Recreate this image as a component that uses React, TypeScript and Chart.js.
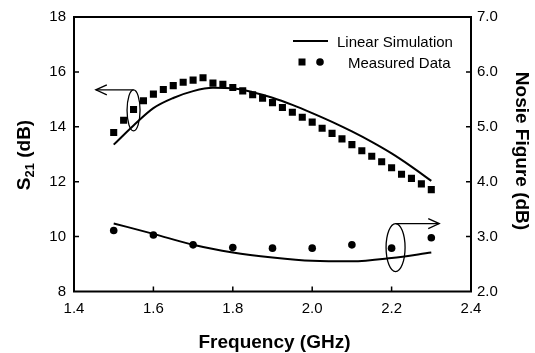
import React, { useEffect, useRef } from "react";
import { Chart, registerables } from "chart.js";
Chart.register(...registerables);

// ---- data ----
const xTicks = [1.4, 1.6, 1.8, 2.0, 2.2, 2.4];
const leftTicks = [8, 10, 12, 14, 16, 18];
const rightTicks = [2.0, 3.0, 4.0, 5.0, 6.0, 7.0];

const simS21Freq = [1.5, 1.55, 1.6, 1.65, 1.7, 1.75, 1.8, 1.85, 1.9, 1.95, 2.0, 2.05, 2.1, 2.15, 2.2, 2.25, 2.3];
const simS21 = [13.35, 14.05, 14.68, 15.05, 15.3, 15.42, 15.4, 15.26, 15.06, 14.8, 14.5, 14.18, 13.83, 13.45, 13.03, 12.55, 12.03];

const measS21Freq = [1.5, 1.525, 1.55, 1.575, 1.6, 1.625, 1.65, 1.675, 1.7, 1.725, 1.75, 1.775, 1.8, 1.825, 1.85, 1.875, 1.9, 1.925, 1.95, 1.975, 2.0, 2.025, 2.05, 2.075, 2.1, 2.125, 2.15, 2.175, 2.2, 2.225, 2.25, 2.275, 2.3];
const measS21 = [13.79, 14.24, 14.63, 14.95, 15.19, 15.36, 15.5, 15.62, 15.7, 15.79, 15.59, 15.55, 15.43, 15.31, 15.17, 15.04, 14.88, 14.7, 14.53, 14.35, 14.17, 13.95, 13.76, 13.56, 13.35, 13.13, 12.93, 12.73, 12.51, 12.27, 12.12, 11.92, 11.71];

const nfFreq = [1.5, 1.6, 1.7, 1.8, 1.9, 2.0, 2.1, 2.2, 2.3];
const simNF = [3.24, 3.05, 2.85, 2.71, 2.62, 2.56, 2.55, 2.61, 2.71];
const measNF = [3.11, 3.03, 2.85, 2.8, 2.79, 2.79, 2.85, 2.79, 2.98];

const legendLabels = ["Linear Simulation", "Measured Data"];
const xTitle = "Frequency (GHz)";
const rightTitle = "Nosie Figure (dB)";

const FONT = "'Liberation Sans', Arial, sans-serif";

const decorPlugin = {
  id: "decor",
  afterDraw(chart: any) {
    const { ctx, chartArea: a, scales } = chart;
    const sx = scales.x, sy = scales.y, sy2 = scales.y2;
    ctx.save();
    ctx.strokeStyle = "#000";
    ctx.fillStyle = "#000";
    // frame
    ctx.lineWidth = 2;
    ctx.strokeRect(a.left, a.top, a.right - a.left, a.bottom - a.top);
    // inward ticks
    ctx.lineWidth = 1.5;
    const tl = 5;
    ctx.beginPath();
    xTicks.slice(1, -1).forEach((v) => {
      const px = sx.getPixelForValue(v);
      ctx.moveTo(px, a.bottom);
      ctx.lineTo(px, a.bottom - tl);
    });
    leftTicks.slice(1, -1).forEach((v) => {
      const py = sy.getPixelForValue(v);
      ctx.moveTo(a.left, py);
      ctx.lineTo(a.left + tl, py);
    });
    rightTicks.slice(1, -1).forEach((v) => {
      const py = sy2.getPixelForValue(v);
      ctx.moveTo(a.right, py);
      ctx.lineTo(a.right - tl, py);
    });
    ctx.stroke();

    const big = `bold 19px ${FONT}`;
    const small = `bold 13px ${FONT}`;
    // x title
    ctx.font = big;
    ctx.textAlign = "center";
    ctx.textBaseline = "alphabetic";
    ctx.fillText(xTitle, (a.left + a.right) / 2 + 2, 348);

    // left title with subscript
    ctx.save();
    ctx.translate(23, 155);
    ctx.rotate(-Math.PI / 2);
    ctx.textAlign = "left";
    ctx.font = big;
    const wS = ctx.measureText("S").width;
    const wRest = ctx.measureText(" (dB)").width;
    ctx.font = small;
    const wSub = ctx.measureText("21").width;
    const x0 = -(wS + wSub + wRest) / 2;
    ctx.font = big;
    ctx.fillText("S", x0, 7);
    ctx.font = small;
    ctx.fillText("21", x0 + wS, 11);
    ctx.font = big;
    ctx.fillText(" (dB)", x0 + wS + wSub, 7);
    ctx.restore();

    // right title
    ctx.save();
    ctx.translate(523, 151);
    ctx.rotate(Math.PI / 2);
    ctx.textAlign = "center";
    ctx.font = big;
    ctx.fillText(rightTitle, 0, 7);
    ctx.restore();

    // legend
    ctx.lineWidth = 2;
    ctx.beginPath();
    ctx.moveTo(293, 41);
    ctx.lineTo(328, 41);
    ctx.stroke();
    ctx.font = `15px ${FONT}`;
    ctx.textAlign = "left";
    ctx.fillText(legendLabels[0], 337, 46.5);
    ctx.fillRect(298.5, 58.5, 7, 7);
    ctx.beginPath();
    ctx.arc(320, 62, 3.8, 0, Math.PI * 2);
    ctx.fill();
    ctx.fillText(legendLabels[1], 348, 67.5);

    // annotations
    const arrowHead = (x: number, y: number, dir: number) => {
      ctx.beginPath();
      ctx.moveTo(x - dir * 11, y - 5);
      ctx.lineTo(x, y);
      ctx.lineTo(x - dir * 11, y + 5);
      ctx.stroke();
    };
    ctx.lineWidth = 1.3;
    // left
    const lx = sx.getPixelForValue(1.55);
    const ly = sy.getPixelForValue(14.6);
    ctx.beginPath();
    ctx.ellipse(lx, ly, 6.5, 20.5, 0, 0, Math.PI * 2);
    ctx.stroke();
    const lTip = sx.getPixelForValue(1.455);
    ctx.beginPath();
    ctx.moveTo(lx, ly - 20.5);
    ctx.lineTo(lTip, ly - 20.5);
    ctx.stroke();
    arrowHead(lTip, ly - 20.5, -1);
    // right
    const rx = sx.getPixelForValue(2.21);
    const ry = sy2.getPixelForValue(2.8);
    ctx.beginPath();
    ctx.ellipse(rx, ry, 9.5, 24, 0, 0, Math.PI * 2);
    ctx.stroke();
    const rTip = sx.getPixelForValue(2.32);
    ctx.beginPath();
    ctx.moveTo(rx, ry - 24);
    ctx.lineTo(rTip, ry - 24);
    ctx.stroke();
    arrowHead(rTip, ry - 24, 1);
    ctx.restore();
  },
};

export default function App() {
  const ref = useRef<HTMLCanvasElement>(null);
  useEffect(() => {
    document.body.style.margin = "0";
    const canvas = ref.current!;
    const tickFont = { family: FONT, size: 15 };
    const chart = new Chart(canvas, {
      type: "line",
      data: {
        datasets: [
          {
            data: simS21Freq.map((f, i) => ({ x: f, y: simS21[i] })),
            yAxisID: "y",
            borderColor: "#000",
            borderWidth: 2,
            pointRadius: 0,
            cubicInterpolationMode: "monotone",
            fill: false,
          },
          {
            data: measS21Freq.map((f, i) => ({ x: f, y: measS21[i] })),
            yAxisID: "y",
            showLine: false,
            pointStyle: "rect",
            pointRadius: 5,
            backgroundColor: "#000",
            borderColor: "#000",
            borderWidth: 0,
          },
          {
            data: nfFreq.map((f, i) => ({ x: f, y: simNF[i] })),
            yAxisID: "y2",
            borderColor: "#000",
            borderWidth: 2,
            pointRadius: 0,
            cubicInterpolationMode: "monotone",
            fill: false,
          },
          {
            data: nfFreq.map((f, i) => ({ x: f, y: measNF[i] })),
            yAxisID: "y2",
            showLine: false,
            pointStyle: "circle",
            pointRadius: 3.8,
            backgroundColor: "#000",
            borderColor: "#000",
            borderWidth: 0,
          },
        ],
      },
      options: {
        responsive: false,
        animation: false,
        events: [],
        layout: { padding: { top: 16, left: 0, right: 0, bottom: 0 } },
        plugins: { legend: { display: false }, tooltip: { enabled: false } },
        scales: {
          x: {
            type: "linear",
            min: 1.4,
            max: 2.4,
            afterBuildTicks: (s: any) => { s.ticks = xTicks.map((v) => ({ value: v })); },
            ticks: { font: tickFont, color: "#000", padding: 8, maxRotation: 0, callback: (v: any) => Number(v).toFixed(1) },
            grid: { display: false, drawTicks: false },
            border: { display: false },
            afterFit: (s: any) => { s.height = 61.5; },
          },
          y: {
            position: "left",
            min: 8,
            max: 18,
            afterBuildTicks: (s: any) => { s.ticks = leftTicks.map((v) => ({ value: v })); },
            ticks: { font: tickFont, color: "#000", padding: 8, callback: (v: any) => String(v) },
            grid: { display: false, drawTicks: false },
            border: { display: false },
            afterFit: (s: any) => { s.width = 74; },
          },
          y2: {
            position: "right",
            min: 2,
            max: 7,
            afterBuildTicks: (s: any) => { s.ticks = rightTicks.map((v) => ({ value: v })); },
            ticks: { font: tickFont, color: "#000", padding: 6, callback: (v: any) => Number(v).toFixed(1) },
            grid: { display: false, drawTicks: false },
            border: { display: false },
            afterFit: (s: any) => { s.width = 64; },
          },
        },
      },
      plugins: [decorPlugin],
    } as any);
    return () => chart.destroy();
  }, []);
  return <canvas ref={ref} width={535} height={353} style={{ display: "block" }} />;
}
